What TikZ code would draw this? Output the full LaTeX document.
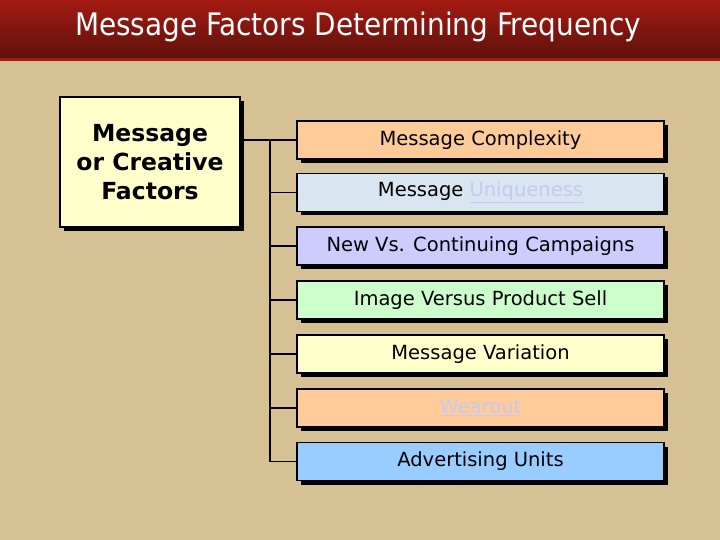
\documentclass[tikz,border=0pt]{standalone}
\usepackage{fontspec}
\setmainfont{DejaVu Sans}
\newfontfamily\titlefont{DejaVu Sans Condensed}
\usetikzlibrary{shadows}
\definecolor{tan}{HTML}{D6C194}
\definecolor{hdrtop}{HTML}{A31A12}
\definecolor{hdrbot}{HTML}{5E120C}
\definecolor{linkc}{HTML}{C8C8F0}
\tikzset{
  item/.style={draw=black, line width=1.4pt, minimum width=367pt, minimum height=38pt, inner sep=0pt,
    font=\fontsize{19.5}{22}\selectfont, drop shadow={shadow xshift=4pt, shadow yshift=-4pt, fill=black, opacity=1}},
  conn/.style={line width=1.4pt},
}
\newcommand{\lnk}[1]{\textcolor{linkc}{\underline{#1}}}
\newcommand{\dn}[1]{\raisebox{-2pt}{#1}}
\begin{document}
\begin{tikzpicture}[x=1pt,y=-1pt]
\useasboundingbox (0,0) rectangle (720,540);
\fill[tan] (0,0) rectangle (720,540);
\shade[top color=hdrtop, bottom color=hdrbot] (0,0) rectangle (720,58);
\fill[hdrtop] (0,58) rectangle (720,61);
\node[text=white, font=\titlefont\fontsize{31}{36}\selectfont] (title) at (358,27) {Message Factors Determining Frequency};
\node[draw=black, line width=1.4pt, fill={rgb,255:red,255;green,255;blue,204}, minimum width=180pt, minimum height=130pt, inner sep=0pt,
  align=center, font=\bfseries\fontsize{23.5}{29}\selectfont,
  drop shadow={shadow xshift=4pt, shadow yshift=-4pt, fill=black, opacity=1}] (main) at (150,162) {Message\\or Creative\\Factors};
\node[item, fill={rgb,255:red,255;green,204;blue,153}] (a) at (480.5,140) {\dn{Message Complexity}};
\node[item, fill={rgb,255:red,217;green,229;blue,240}] (b) at (480.5,192.5) {\dn{Message \lnk{Uniqueness}}};
\node[item, fill={rgb,255:red,204;green,204;blue,255}] (c) at (480.5,246) {\dn{New Vs. Continuing Campaigns}};
\node[item, fill={rgb,255:red,204;green,255;blue,204}] (d) at (480.5,300) {\dn{Image Versus Product Sell}};
\node[item, fill={rgb,255:red,255;green,255;blue,204}] (e) at (480.5,354) {\dn{Message Variation}};
\node[item, fill={rgb,255:red,255;green,204;blue,153}] (f) at (480.5,408) {\dn{\lnk{Wearout}}};
\node[item, fill={rgb,255:red,153;green,204;blue,255}] (g) at (480.5,461.5) {\dn{Advertising Units}};
\coordinate (v1) at (270,140);
\coordinate (v2) at (270,461.5);
\draw[conn] (main.east |- a) -- (a.west);
\draw[conn] (v1) -- (v2);
\foreach \n in {b,c,d,e,f,g} \draw[conn] (v1 |- \n) -- (\n.west);
\end{tikzpicture}
\end{document}
